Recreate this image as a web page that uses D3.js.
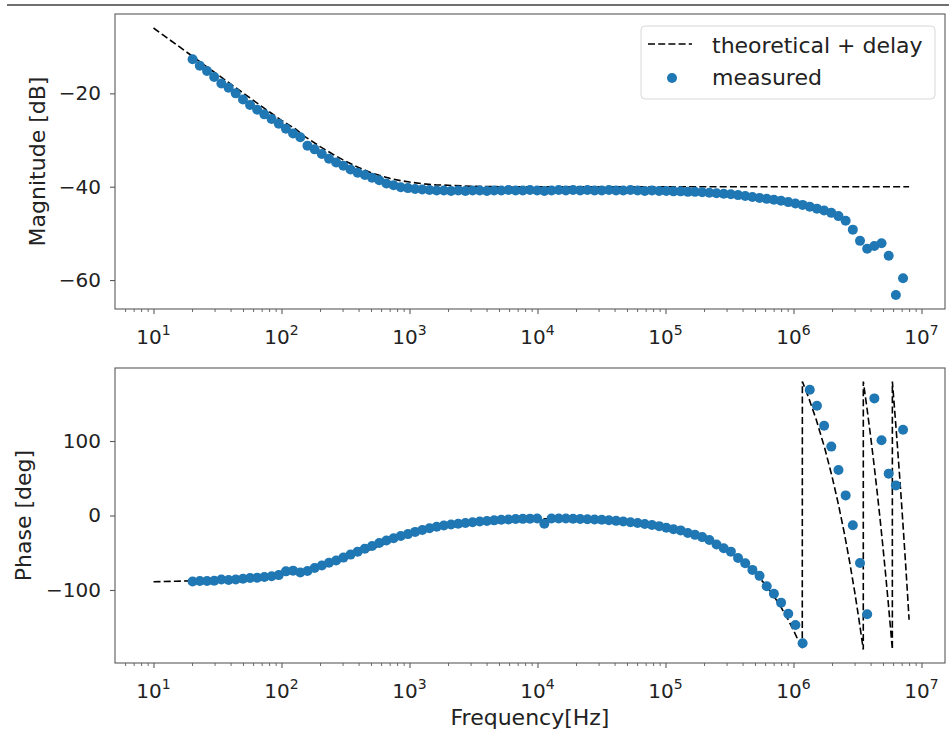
<!DOCTYPE html>
<html>
<head>
<meta charset="utf-8">
<script src="https://cdn.jsdelivr.net/npm/d3@7"></script>
<style>
  html, body { margin: 0; padding: 0; background: #fff; }
  svg { display: block; }
  text { font-family: "DejaVu Sans", sans-serif; fill: #222; }
</style>
</head>
<body>
<svg id="chart" width="949" height="733"></svg>
<script>
// ---------------- data ----------------
const freq = [20.2,23.0,26.2,29.8,33.9,38.6,43.9,50.0,56.8,64.6,
  73.5,83.7,95.2,108.3,123.2,140.2,159.5,181.5,206.5,235.0,
  267.3,304.2,346.1,393.8,448.1,509.9,580.2,660.2,751.2,854.8,
  972.6,1107,1259,1433,1630,1855,2111,2402,2733,3110,
  3538,4026,4581,5212,5930,6748,7677,8735,9939,11309,
  12867,14640,16657,18952,21563,24534,27914,31760,36135,41113,
  46778,53222,60555,68897,78389,89188,101475,115455,131361,149458,
  170048,193474,220128,250453,284957,324213,368878,419695,477515,542997,
  617800,702900,799700,909900,1035200,1177900,1340100,1524800,1734800,1973800,
  2245800,2555300,2907300,3307800,3763500,4282000,4871900,5543000,6306700,7175500];

const magMeasured = [-12.7,-14.1,-15.2,-16.5,-17.9,-18.8,-20.0,-21.3,-22.5,-23.5,
  -24.5,-25.5,-26.5,-27.6,-28.6,-29.4,-31.2,-32.0,-33.0,-34.0,
  -34.8,-35.5,-36.3,-37.0,-37.5,-38.1,-38.6,-39.3,-39.7,-40.1,
  -40.3,-40.5,-40.6,-40.7,-40.8,-40.8,-40.9,-40.8,-40.9,-40.8,
  -40.8,-40.9,-40.8,-40.8,-40.7,-40.8,-40.8,-40.7,-40.8,-40.9,
  -40.8,-40.7,-40.8,-40.7,-40.8,-40.7,-40.8,-40.8,-40.7,-40.8,
  -40.8,-40.7,-40.8,-40.9,-40.8,-40.9,-40.9,-41.0,-41.0,-41.1,
  -41.1,-41.2,-41.3,-41.4,-41.5,-41.6,-41.8,-42.0,-42.2,-42.4,
  -42.6,-42.8,-43.0,-43.3,-43.6,-43.9,-44.3,-44.7,-45.1,-45.6,
  -46.3,-47.3,-49.2,-51.6,-53.3,-52.7,-52.1,-54.8,-63.2,-59.6];

const phaseMeasured = [-88.5,-88.0,-88.0,-87.5,-86.0,-86.5,-86.0,-85.0,-84.0,-83.5,
  -82.5,-81.5,-80.0,-75.0,-74.0,-76.5,-74.5,-70.5,-67.0,-63.5,
  -60.5,-56.5,-52.5,-48.5,-44.5,-41.0,-37.0,-33.5,-30.5,-27.5,
  -25.0,-22.0,-19.5,-17.0,-15.0,-13.5,-12.0,-11.0,-10.0,-9.0,
  -8.0,-7.3,-6.5,-5.8,-5.3,-4.8,-4.5,-4.2,-4.0,-11.0,
  -4.0,-4.0,-4.1,-4.3,-4.6,-5.0,-5.4,-5.8,-6.4,-7.2,
  -8.1,-9.0,-10.1,-11.3,-12.7,-14.3,-16.5,-18.5,-20.0,-23.5,
  -26.0,-29.0,-33.0,-39.0,-44.0,-48.5,-57.0,-64.0,-73.0,-81.0,
  -95.0,-105.0,-117.0,-132.0,-147.0,-171.6,168.9,147.3,120.4,92.5,
  61.1,27.0,-13.0,-63.8,-132.5,157.2,101.0,56.2,40.4,115.0];

const theoMagFreq = [10,12,15,20,25,30,40,50,70,100,130,150,170,200,250,300,400,500,600,700,850,
  1000,1300,1600,2000,3000,5000,10000,8000000];
const theoMag = [-6.0,-7.6,-9.5,-12.0,-13.95,-15.5,-18.0,-19.9,-22.8,-25.8,-27.7,-29.15,-30.1,-31.4,-33.0,-34.2,-35.9,-37.0,-37.7,-38.2,-38.7,
  -39.0,-39.4,-39.6,-39.7,-39.9,-40.0,-40.0,-40.0];

const theoPhaseFreq = [10,15,20,30,50,70,100,150,200,300,400,500,700,1000,1500,2000,3000,5000,7000,
  10000,20000,30000,50000,70000,100000,150000,200000,300000,400000,500000,600000,700000,800000,900000,
  1000000,1100000,1171000,1173000,1300000,1500000,1750000,2000000,2250000,2500000,2750000,3000000,3250000,3509000,
  3511000,3750000,4000000,4250000,4500000,4750000,5000000,5250000,5500000,5750000,5919000,
  5921000,6250000,6500000,6750000,7000000,7250000,7500000,7750000,8000000];
const theoPhase = [-88.9,-88.3,-87.7,-86.6,-84.3,-82.0,-78.7,-73.3,-68.2,-59.1,-51.4,-45.1,-35.6,-26.6,-18.5,-14.1,-9.9,-6.5,-5.2,
  -4.4,-4.5,-5.6,-8.3,-11.2,-15.7,-23.3,-30.9,-46.2,-61.6,-77.0,-92.4,-107.8,-123.2,-138.6,
  -154.0,-169.4,-179.8,179.8,160.3,129.5,91.0,52.5,14.0,-24.5,-63.0,-101.5,-140.0,-179.9,
  179.8,144.1,106.8,69.5,32.1,-5.2,-42.6,-79.9,-117.3,-154.6,-179.9,
  179.8,129.2,90.8,52.3,13.9,-24.6,-63.0,-101.5,-139.9];

const xTickExps = [1,2,3,4,5,6,7];
const magTicks = [-20,-40,-60];
const phaseTicks = [100,0,-100];
const legendLabels = ["theoretical + delay","measured"];

// ---------------- layout ----------------
const svg = d3.select("#chart");
const W = 949, H = 733;
const L = 115, R = 945;
const top1 = 14, bot1 = 309, top2 = 368, bot2 = 663;
const blue = "#1f77b4";
const spine = "#5a5a5a";
const dotR = 5;

svg.append("rect").attr("width", W).attr("height", H).attr("fill", "#fff");
// thin rule at the top of the image
svg.append("line").attr("x1", 7).attr("x2", W).attr("y1", 5).attr("y2", 5)
  .attr("stroke", "#707070").attr("stroke-width", 2);

const x = d3.scaleLog().domain([Math.pow(10, 0.6992), Math.pow(10, 7.1836)]).range([L, R]);
const yMag = d3.scaleLinear().domain([-66.2, -3.0]).range([bot1, top1]);
const yPh = d3.scaleLinear().domain([-198, 198]).range([bot2, top2]);

const minorTicks = [];
for (let e = 0; e <= 7; e++) for (let m = 2; m <= 9; m++) {
  const v = m * Math.pow(10, e);
  if (v > x.domain()[0] && v < x.domain()[1]) minorTicks.push(v);
}

function drawPanel(y, top, bot, yTicks, yFmt, yLabel, yLabelX) {
  const g = svg.append("g");
  g.append("g").attr("transform", `translate(0,${bot})`)
    .call(d3.axisBottom(x).tickValues(minorTicks).tickSize(3).tickFormat(""))
    .call(s => { s.select(".domain").remove(); s.selectAll("line").attr("stroke", spine).attr("stroke-width", 0.9); });
  const xa = g.append("g").attr("transform", `translate(0,${bot})`)
    .call(d3.axisBottom(x).tickValues(xTickExps.map(e => Math.pow(10, e))).tickSize(5).tickFormat(""));
  xa.select(".domain").remove();
  xa.selectAll("line").attr("stroke", spine).attr("stroke-width", 1.1);
  xTickExps.forEach(e => {
    const t = g.append("text").attr("x", x(Math.pow(10, e))).attr("y", bot + 35)
      .attr("text-anchor", "middle").attr("font-size", 20);
    t.append("tspan").text("10");
    t.append("tspan").attr("font-size", 14).attr("dy", -9).text(String(e));
  });
  const ya = g.append("g").attr("transform", `translate(${L},0)`)
    .call(d3.axisLeft(y).tickValues(yTicks).tickSize(5).tickPadding(9).tickFormat(yFmt));
  ya.select(".domain").remove();
  ya.selectAll("line").attr("stroke", spine).attr("stroke-width", 1.1);
  ya.selectAll("text").attr("font-size", 20).attr("font-family", "DejaVu Sans").attr("fill", "#222");
  g.append("rect").attr("x", L).attr("y", top).attr("width", R - L).attr("height", bot - top)
    .attr("fill", "none").attr("stroke", spine).attr("stroke-width", 1.1);
  g.append("text").attr("transform", `translate(${yLabelX},${(top + bot) / 2}) rotate(-90)`)
    .attr("text-anchor", "middle").attr("font-size", 22).text(yLabel);
  return g;
}

const fmtMinus = d => (d < 0 ? "\u2212" + Math.abs(d) : String(d));
drawPanel(yMag, top1, bot1, magTicks, fmtMinus, "Magnitude [dB]", 45);
drawPanel(yPh, top2, bot2, phaseTicks, fmtMinus, "Phase [deg]", 31);

svg.append("text").attr("x", (L + R) / 2).attr("y", 725).attr("text-anchor", "middle")
  .attr("font-size", 22).text("Frequency[Hz]");

const dash = "7,3.2";
svg.append("path")
  .datum(theoMagFreq.map((f, i) => [f, theoMag[i]]))
  .attr("fill", "none").attr("stroke", "#000").attr("stroke-width", 1.6).attr("stroke-dasharray", dash)
  .attr("d", d3.line().x(d => x(d[0])).y(d => yMag(d[1])));
svg.append("g").selectAll("circle").data(freq.map((f, i) => [f, magMeasured[i]])).join("circle")
  .attr("cx", d => x(d[0])).attr("cy", d => yMag(d[1])).attr("r", dotR).attr("fill", blue);

svg.append("path")
  .datum(theoPhaseFreq.map((f, i) => [f, theoPhase[i]]))
  .attr("fill", "none").attr("stroke", "#000").attr("stroke-width", 1.6).attr("stroke-dasharray", dash)
  .attr("d", d3.line().x(d => x(d[0])).y(d => yPh(d[1])));
svg.append("g").selectAll("circle").data(freq.map((f, i) => [f, phaseMeasured[i]])).join("circle")
  .attr("cx", d => x(d[0])).attr("cy", d => yPh(d[1])).attr("r", dotR).attr("fill", blue);

const lg = svg.append("g");
lg.append("rect").attr("x", 641).attr("y", 26).attr("width", 294).attr("height", 73).attr("rx", 4)
  .attr("fill", "#fff").attr("fill-opacity", 0.85).attr("stroke", "#d8d8d8").attr("stroke-width", 1);
lg.append("line").attr("x1", 648).attr("x2", 692).attr("y1", 44).attr("y2", 44)
  .attr("stroke", "#000").attr("stroke-width", 1.6).attr("stroke-dasharray", dash);
lg.append("text").attr("x", 712).attr("y", 53).attr("font-size", 22).text(legendLabels[0]);
lg.append("circle").attr("cx", 672).attr("cy", 78).attr("r", dotR).attr("fill", blue);
lg.append("text").attr("x", 712).attr("y", 85).attr("font-size", 22).text(legendLabels[1]);
</script>
</body>
</html>
